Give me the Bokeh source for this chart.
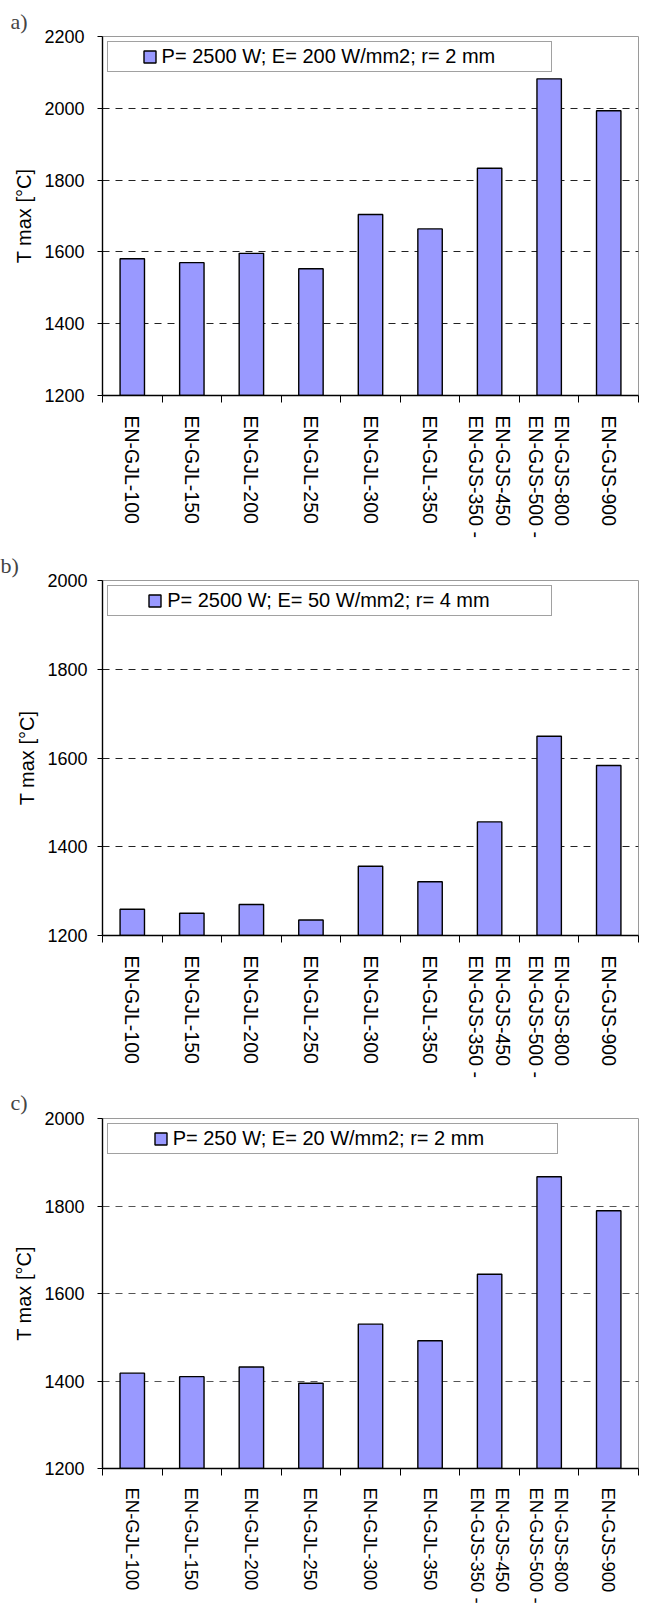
from bokeh.plotting import figure
from bokeh.models import Range1d, FixedTicker, Legend, LegendItem
from bokeh.layouts import column
from bokeh.embed import file_html
from bokeh.resources import INLINE

categories = ["EN-GJL-100", "EN-GJL-150", "EN-GJL-200", "EN-GJL-250",
              "EN-GJL-300", "EN-GJL-350", "EN-GJS-450\nEN-GJS-350 -",
              "EN-GJS-800\nEN-GJS-500 -", "EN-GJS-900"]

panel_labels = ["a)", "b)", "c)"]
series_labels = ["P= 2500 W; E= 200 W/mm2; r= 2 mm",
                 "P= 2500 W; E= 50 W/mm2; r= 4 mm",
                 "P= 250 W; E= 20 W/mm2; r= 2 mm"]

tmax_a = [1581, 1570, 1596, 1553, 1704, 1664, 1833, 2082, 1993]
tmax_b = [1259, 1250, 1270, 1235, 1356, 1321, 1456, 1649, 1583]
tmax_c = [1418, 1410, 1432, 1395, 1530, 1492, 1644, 1867, 1789]

y_ticks_a = [1200, 1400, 1600, 1800, 2000, 2200]
y_ticks_b = [1200, 1400, 1600, 1800, 2000]
y_ticks_c = [1200, 1400, 1600, 1800, 2000]

y_title = "T max [\u00b0C]"

NB = "\u00a0"


def make_panel(label, series_label, values, yticks, height, ml, mt, mb,
               xfont, xstand, ystand, grid_color, lead, trail, lmargin,
               tstand):
    n = len(categories)
    centers = [i + 0.5 for i in range(n)]
    bounds = list(range(n + 1))
    p = figure(width=639, height=height,
               x_range=Range1d(0, n),
               y_range=Range1d(yticks[0], yticks[-1]),
               output_backend="svg", toolbar_location=None,
               min_border_left=ml, min_border_right=1,
               min_border_top=mt, min_border_bottom=mb,
               title=label)
    p.title.text_font = "Liberation Serif"
    p.title.text_font_size = "22px"
    p.title.text_font_style = "normal"
    p.title.align = "left"
    p.title.offset = -ml
    p.title.standoff = tstand

    bars = p.vbar(x=centers, top=values, bottom=yticks[0], width=0.41,
                  fill_color="#9999FF", line_color="black", line_width=1.4)
    spacer = p.vbar(x=[], top=[], bottom=yticks[0], width=0.41,
                    fill_alpha=0, line_alpha=0)

    p.outline_line_color = "#9a9a9a"
    p.outline_line_width = 1
    p.background_fill_color = "white"
    p.border_fill_color = "white"

    p.xgrid.visible = False
    p.ygrid.ticker = FixedTicker(ticks=yticks[1:-1])
    p.ygrid.grid_line_color = grid_color
    p.ygrid.grid_line_dash = "7 6"
    p.ygrid.grid_line_width = 1

    ya = p.yaxis[0]
    ya.ticker = FixedTicker(ticks=yticks)
    ya.axis_line_color = "black"
    ya.axis_line_width = 1.4
    ya.major_tick_out = 5
    ya.major_tick_in = 0
    ya.major_tick_line_color = "black"
    ya.minor_tick_line_color = None
    ya.major_label_text_font = "Liberation Sans"
    ya.major_label_text_font_size = "18px"
    ya.major_label_text_color = "black"
    ya.major_label_standoff = ystand
    ya.axis_label = y_title
    ya.axis_label_text_font = "Liberation Sans"
    ya.axis_label_text_font_size = "20px"
    ya.axis_label_text_font_style = "normal"
    ya.axis_label_text_color = "black"
    ya.axis_label_standoff = 6

    xa = p.xaxis[0]
    xa.ticker = FixedTicker(ticks=centers, minor_ticks=bounds)
    xa.major_label_overrides = {c: cat for c, cat in zip(centers, categories)}
    xa.major_label_orientation = "vertical"
    xa.major_tick_line_color = None
    xa.major_tick_out = 0
    xa.major_tick_in = 0
    xa.minor_tick_line_color = "black"
    xa.minor_tick_out = 7
    xa.minor_tick_in = 0
    xa.axis_line_color = "black"
    xa.axis_line_width = 1.4
    xa.major_label_standoff = xstand
    xa.major_label_text_font = "Liberation Sans"
    xa.major_label_text_font_size = xfont
    xa.major_label_text_color = "black"

    legend = Legend(items=[LegendItem(label=NB * lead, renderers=[spacer]),
                           LegendItem(label=series_label, renderers=[bars]),
                           LegendItem(label=NB * trail, renderers=[spacer])],
                    orientation="horizontal", location="top_left",
                    margin=lmargin, padding=3, spacing=5,
                    glyph_width=15, glyph_height=15, label_standoff=5,
                    label_width=0, label_height=18,
                    label_text_font="Liberation Sans",
                    label_text_font_size="20px", label_text_color="black",
                    border_line_color="#444444", border_line_width=1.5,
                    background_fill_color="white", background_fill_alpha=1)
    p.add_layout(legend)
    return p


pa = make_panel(panel_labels[0], series_labels[0], tmax_a, y_ticks_a,
                544, 92, 36, 149, "19.5px", 13, 13, "#222222", 1, 5, 5, 6)
pb = make_panel(panel_labels[1], series_labels[1], tmax_b, y_ticks_b,
                536, 102, 36, 144, "19.5px", 13, 10, "#222222", 2, 6, 5, 6)
pc = make_panel(panel_labels[2], series_labels[2], tmax_c, y_ticks_c,
                526, 92, 38, 127, "18.5px", 12, 13, "#555555", 3, 8, 5, 8)

layout = column(pa, pb, pc, spacing=0)
open("out.html", "w").write(file_html(layout, INLINE))
